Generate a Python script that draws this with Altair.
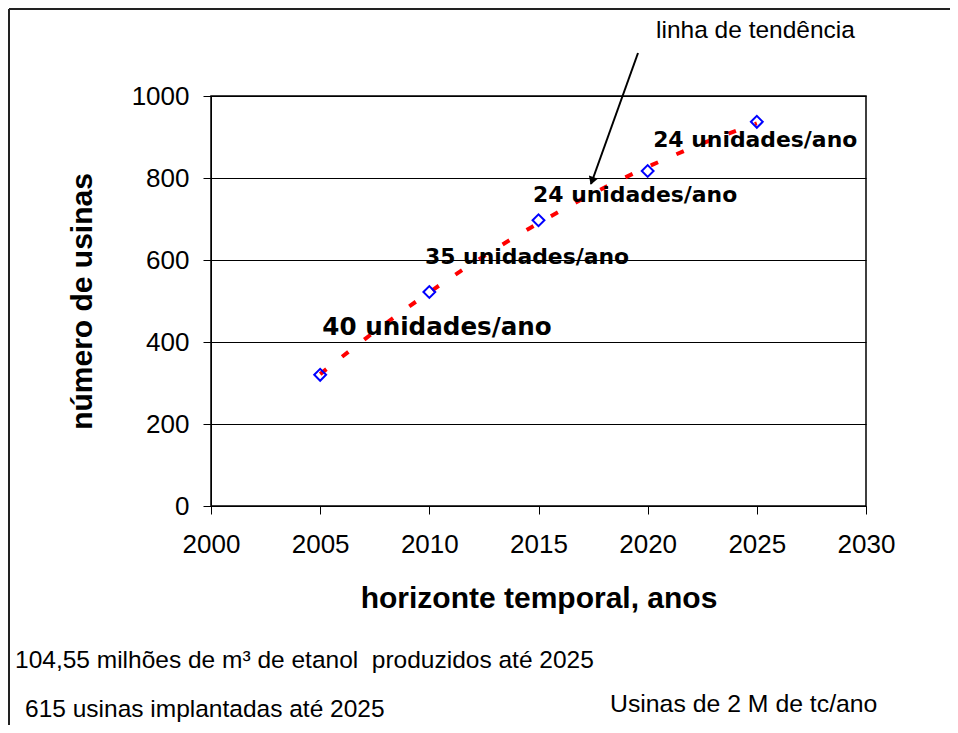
import altair as alt
import pandas as pd

# Data
years = [2005, 2010, 2015, 2020, 2025]
usinas = [320, 522, 697, 817, 937]

label_texts = ["40 unidades/ano", "35 unidades/ano", "24 unidades/ano", "24 unidades/ano"]
label_years = [2005.1, 2009.8, 2014.75, 2020.25]
label_values = [434, 607, 758, 893]

x_ticks = [2000, 2005, 2010, 2015, 2020, 2025, 2030]
y_ticks = [0, 200, 400, 600, 800, 1000]

notes = [
    "104,55 milhões de m³ de etanol\u00a0 produzidos até 2025",
    "615 usinas implantadas até 2025",
    "Usinas de 2 M de tc/ano",
]
trend_label = "linha de tendência"

df = pd.DataFrame({"ano": years, "usinas": usinas})
df_lab_first = pd.DataFrame({"txt": label_texts[:1], "ano": label_years[:1], "usinas": label_values[:1]})
df_lab_rest = pd.DataFrame({"txt": label_texts[1:], "ano": label_years[1:], "usinas": label_values[1:]})
one = pd.DataFrame({"k": [0]})

ARIAL = "Liberation Sans"

xscale = alt.Scale(domain=[2000, 2030], nice=False, zero=False)
yscale = alt.Scale(domain=[0, 1000], nice=False)

xaxis = alt.Axis(
    values=x_ticks, format="d", grid=False, tickSize=8, tickColor="black",
    domainColor="black", labelFlush=False, labelOverlap=False,
    labelFont=ARIAL, labelFontSize=26, labelColor="black", labelPadding=17,
    title="horizonte temporal, anos", titleFont=ARIAL, titleFontSize=30,
    titleFontWeight="bold", titleColor="black", titleY=92, titleBaseline="middle",
)
yaxis = alt.Axis(
    values=y_ticks, format="d", grid=True, gridColor="black", gridWidth=1,
    tickSize=8, tickColor="black", domainColor="black", labelOverlap=False,
    labelFont=ARIAL, labelFontSize=26, labelColor="black", labelPadding=14,
    title="número de usinas", titleFont=ARIAL, titleFontSize=30,
    titleFontWeight="bold", titleColor="black", titleX=-129, titleY=205,
    titleBaseline="middle",
)

base = alt.Chart(df)

trend = base.transform_regression(
    "ano", "usinas", method="poly", order=2
).mark_line(color="#FF0000", strokeDash=[8, 20], strokeWidth=4).encode(
    x=alt.X("ano:Q", scale=xscale, axis=xaxis),
    y=alt.Y("usinas:Q", scale=yscale, axis=yaxis),
)

points = base.mark_point(
    shape="diamond", filled=False, color="#0000FF", size=140, strokeWidth=2, opacity=1
).encode(
    x=alt.X("ano:Q", scale=xscale),
    y=alt.Y("usinas:Q", scale=yscale),
)

def label_layer(d, size):
    return alt.Chart(d).mark_text(
        align="left", baseline="middle", font="DejaVu Sans", fontWeight="bold",
        fontSize=size, color="black",
    ).encode(
        x=alt.X("ano:Q", scale=xscale),
        y=alt.Y("usinas:Q", scale=yscale),
        text="txt:N",
    )

labels1 = label_layer(df_lab_first, 24.6)
labels2 = label_layer(df_lab_rest, 21.9)

arrow_line = alt.Chart(one).mark_rule(color="black", strokeWidth=2).encode(
    x=alt.value(427), y=alt.value(-43), x2=alt.value(380), y2=alt.value(88)
)
arrow_head = alt.Chart(one).mark_point(
    shape="triangle-down", filled=True, color="black", size=90, angle=19.7, opacity=1
).encode(x=alt.value(381), y=alt.value(85))

def note(txt, x, y, size=24.5):
    return alt.Chart(one).mark_text(
        align="left", baseline="middle", font=ARIAL, fontSize=size, color="black"
    ).encode(x=alt.value(x), y=alt.value(y), text=alt.value(txt))

t_trend = note(trend_label, 445, -65)
t1 = note(notes[0], -196, 565)
t2 = note(notes[1], -186, 614)
t3 = note(notes[2], 399, 609, 24.8)

frame_top = alt.Chart(one).mark_rule(color="#222", strokeWidth=2).encode(
    x=alt.value(-202), x2=alt.value(739), y=alt.value(-87)
)
frame_left = alt.Chart(one).mark_rule(color="#222", strokeWidth=2).encode(
    x=alt.value(-202), y=alt.value(-87), y2=alt.value(629)
)

chart = alt.layer(
    trend, points, labels1, labels2, arrow_line, arrow_head, t_trend, t1, t2, t3,
    frame_top, frame_left,
).properties(
    width=655, height=410,
    autosize=alt.AutoSizeParams(type="none"),
    padding={"left": 203, "top": 88, "right": 84, "bottom": 219},
    background="white",
).configure_view(
    stroke="black", strokeWidth=1.5
)

chart.save("out.html", embed_options={"renderer": "svg", "actions": False})
